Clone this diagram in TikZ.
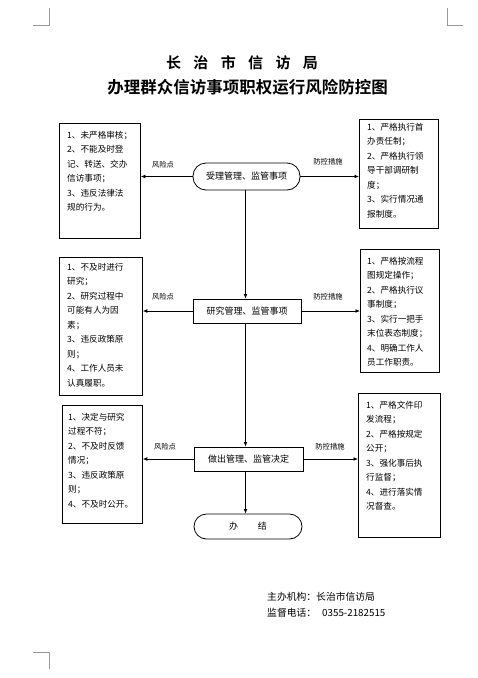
\documentclass[tikz,border=0pt]{standalone}
\usepackage{fontspec}
\setmainfont{Noto Sans CJK SC}[BoldFont=* Bold]
\usetikzlibrary{arrows.meta}
\begin{document}
\begin{tikzpicture}[x=1pt,y=-1pt,
  box/.style={draw=black,line width=0.8pt,anchor=north west,inner sep=0pt},
  txt/.style={anchor=north west,inner sep=0pt,align=left,font=\fontsize{8.6}{14.5}\selectfont},
  flow/.style={draw=black,line width=0.8pt,inner sep=0pt,font=\fontsize{9}{10}\selectfont},
  lbl/.style={inner sep=0pt,font=\fontsize{7.3}{9}\selectfont},
  arr/.style={line width=0.8pt,-{Latex[length=4.5pt,width=3.8pt]}},
  crop/.style={draw=gray!80,line width=0.6pt}
]
\useasboundingbox (0,0) rectangle (478,678);
% crop marks
\draw[crop] (33,25) -- (49,25) -- (49,8);
\draw[crop] (463,25) -- (447,25) -- (447,8);
\draw[crop] (33,652) -- (49,652) -- (49,669);
% titles
\node[inner sep=0pt,font=\fontsize{15}{18}\selectfont\bfseries] (t1) at (242,63) {长\hspace{12.4pt}治\hspace{12.4pt}市\hspace{12.4pt}信\hspace{12.4pt}访\hspace{12.4pt}局};
\node[inner sep=0pt,font=\fontsize{16.5}{20}\selectfont\bfseries] (t2) at (247.5,87) {办理群众信访事项职权运行风险防控图};
% flow nodes
\coordinate (vx) at (245.5,0);
\node[flow,rounded corners=13pt,minimum width=107pt,minimum height=27pt] (n1) at (246.5,176.5) {受理管理、监管事项};
\node[flow,minimum width=108pt,minimum height=24pt] (n2) at (247,311) {研究管理、监管事项};
\node[flow,minimum width=109pt,minimum height=24pt] (n3) at (248.5,459) {做出管理、监管决定};
\node[flow,rounded corners=12.5pt,minimum width=108pt,minimum height=25pt] (n4) at (248,526.5) {办\hspace{20pt}结};
% side boxes
\node[box,minimum width=81pt,minimum height=115pt] (L1) at (59,123) {};
\node[box,minimum width=79pt,minimum height=109pt] (R1) at (359,119) {};
\node[box,minimum width=83pt,minimum height=138pt] (L2) at (59,257) {};
\node[box,minimum width=79pt,minimum height=123pt] (R2) at (360,249) {};
\node[box,minimum width=80pt,minimum height=118pt] (L3) at (62,405) {};
\node[box,minimum width=82pt,minimum height=144pt] (R3) at (358,393) {};
% box texts
\node[txt] (L1t) at (67,131) {1、未严格审核；\\2、不能及时登\\记、转送、交办\\信访事项；\\3、违反法律法\\规的行为。};
\node[txt] (R1t) at (367,123) {1、严格执行首\\办责任制；\\2、严格执行领\\导干部调研制\\度；\\3、实行情况通\\报制度。};
\node[txt] (L2t) at (67,263) {1、不及时进行\\研究；\\2、研究过程中\\可能有人为因\\素；\\3、违反政策原\\则；\\4、工作人员未\\认真履职。};
\node[txt] (R2t) at (367,257) {1、严格按流程\\图规定操作；\\2、严格执行议\\事制度；\\3、实行一把手\\末位表态制度；\\4、明确工作人\\员工作职责。};
\node[txt] (L3t) at (68,413) {1、决定与研究\\过程不符；\\2、不及时反馈\\情况；\\3、违反政策原\\则；\\4、不及时公开。};
\node[txt] (R3t) at (366,401) {1、严格文件印\\发流程；\\2、严格按规定\\公开；\\3、强化事后执\\行监督；\\4、进行落实情\\况督查。};
% labels
\node[lbl] (r1) at (163,165) {风险点};
\node[lbl] (r2) at (163,297) {风险点};
\node[lbl] (r3) at (165,447) {风险点};
\node[lbl] (c1) at (328,162) {防控措施};
\node[lbl] (c2) at (328,297) {防控措施};
\node[lbl] (c3) at (330,447) {防控措施};
% connectors
\draw[arr] (n1.south -| vx) -- (n2.north -| vx);
\draw[arr] (n2.south -| vx) -- (n3.north -| vx);
\draw[arr] (n3.south -| vx) -- (n4.north -| vx);
\draw[arr] (n1.west) -- (n1.west -| L1.east);
\draw[arr] (n1.east) -- (n1.east -| R1.west);
\draw[arr] (n2.west) -- (n2.west -| L2.east);
\draw[arr] (n2.east) -- (n2.east -| R2.west);
\draw[arr] (n3.west) -- (n3.west -| L3.east);
\draw[arr] (n3.east) -- (n3.east -| R3.west);
% footer
\node[inner sep=0pt,anchor=west,font=\fontsize{9.8}{11}\selectfont] (f1) at (267,597) {主办机构：长治市信访局};
\node[inner sep=0pt,anchor=west,font=\fontsize{9.8}{11}\selectfont] (f2) at (267,613) {监督电话：\hspace{6pt}0355-2182515};
\end{tikzpicture}
\end{document}
